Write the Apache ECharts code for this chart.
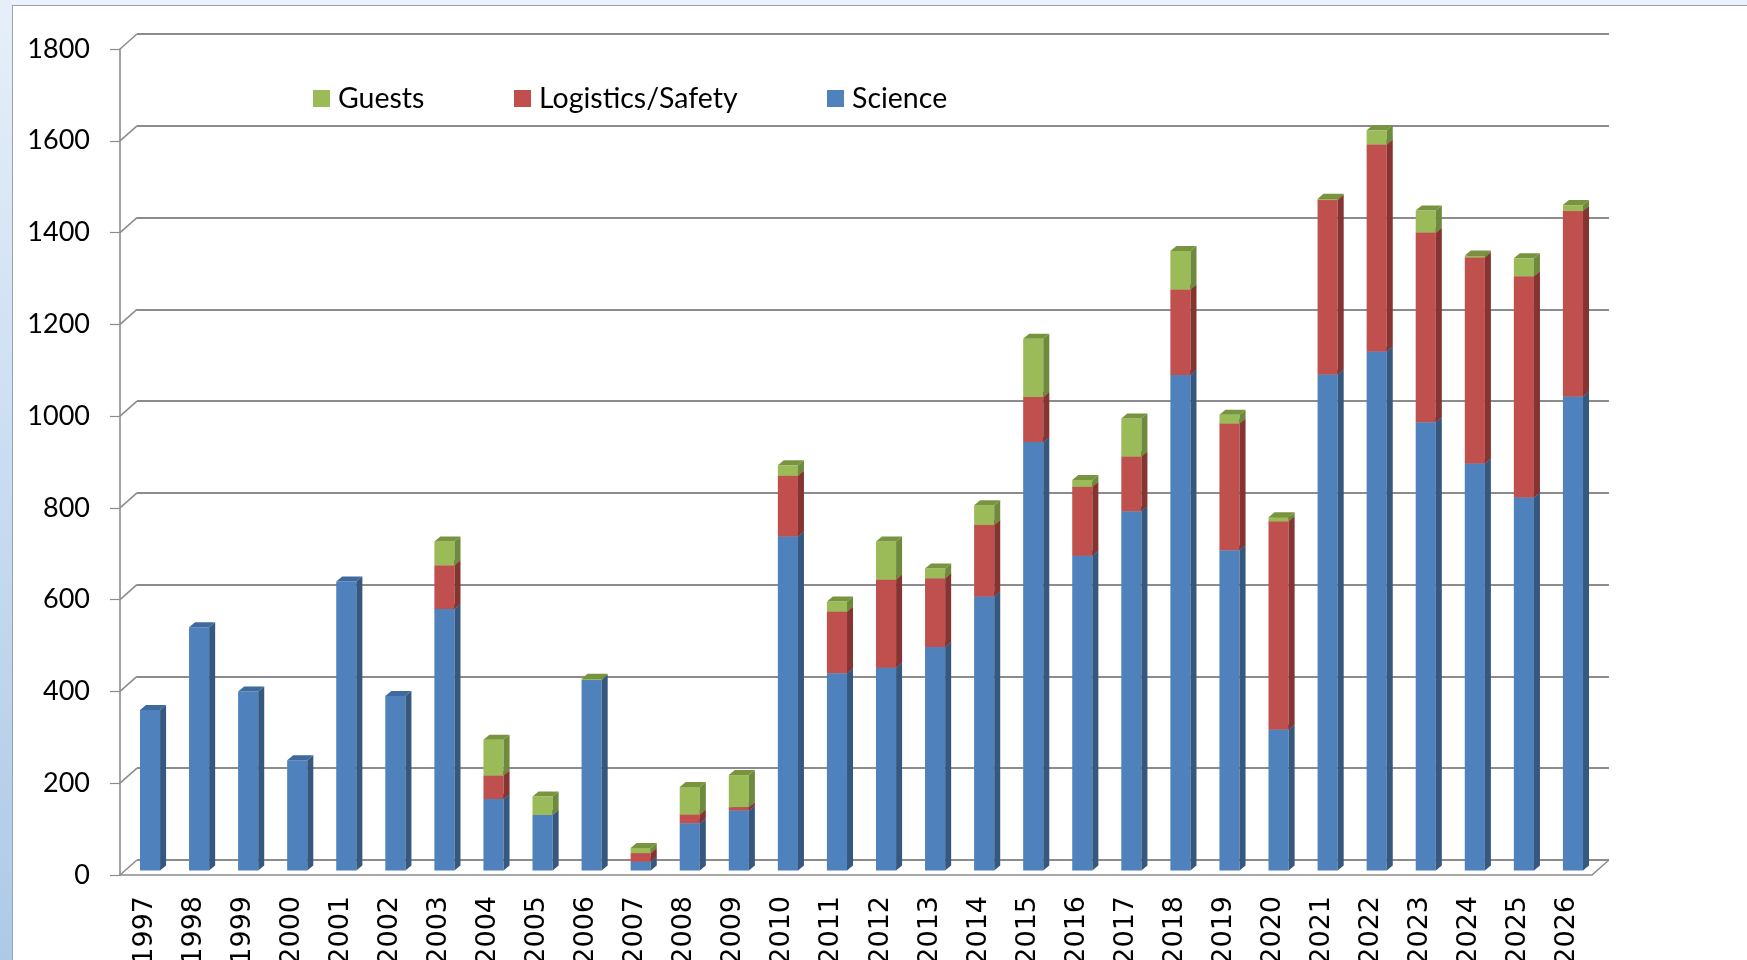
<!DOCTYPE html>
<html>
<head>
<meta charset="utf-8">
<title>Participants per year</title>
<script src="https://cdn.jsdelivr.net/npm/echarts@6/dist/echarts.min.js"></script>
<style>
  html, body { margin: 0; padding: 0; width: 1747px; height: 960px; overflow: hidden; background: #fff; }
  .left-strip { position: absolute; left: 0; top: 0; width: 12px; height: 960px;
    background: linear-gradient(to bottom, #e6eff9, #accae7); border-right: 1px solid #9aa3ad; }
  .top-strip { position: absolute; left: 12px; top: 0; width: 1735px; height: 5px;
    background: #eaf2fb; border-bottom: 1px solid #9aa3ad; }
  #chart { position: absolute; left: 0; top: 0; width: 1747px; height: 960px; }
</style>
</head>
<body>
<div class="left-strip"></div>
<div class="top-strip"></div>
<div id="chart"></div>
<script>
const years = ['1997', '1998', '1999', '2000', '2001', '2002', '2003', '2004', '2005', '2006',
  '2007', '2008', '2009', '2010', '2011', '2012', '2013', '2014', '2015', '2016',
  '2017', '2018', '2019', '2020', '2021', '2022', '2023', '2024', '2025', '2026']
const science = [350, 530, 390, 240, 630, 380, 570, 156, 121, 415,
  19, 103, 131, 728, 430, 442, 487, 597, 934, 686,
  783, 1080, 698, 307, 1081, 1131, 977, 887, 813, 1033]
const logistics = [0, 0, 0, 0, 0, 0, 95, 51, 0, 0,
  19, 19, 7, 132, 134, 192, 150, 156, 98, 150,
  119, 186, 276, 454, 380, 451, 413, 449, 482, 404]
const guests = [0, 0, 0, 0, 0, 0, 52, 78, 40, 3,
  11, 60, 70, 23, 22, 83, 21, 43, 127, 15,
  83, 84, 19, 9, 3, 31, 48, 4, 39, 13]
const yTicks = [0, 200, 400, 600, 800, 1000, 1200, 1400, 1600, 1800]

const chart = echarts.init(document.getElementById('chart'))

// depth of the fake 3d walls and boxes
const WALL_DX = 17, WALL_DY = -15
const BAR_DX = 5.5, BAR_DY = -4.5
const SIDE_DX = 6, SIDE_DY = -5

// [index, bottom, top] for each stacked piece
const stackRows = (vals, below) => vals.map((v, i) => [i, below[i], below[i] + v])
const zeros = years.map(() => 0)
const sciRows = stackRows(science, zeros)
const logRows = stackRows(logistics, science)
const gstRows = stackRows(guests, science.map((s, i) => s + logistics[i]))

const boxRender = (front, side, top) => (params, api) => {
  const i = api.value(0)
  const lo = api.value(1)
  const hi = api.value(2)
  if (hi - lo <= 0) return
  const pLo = api.coord([i, lo])
  const pHi = api.coord([i, hi])
  const bw = api.size([1, 0])[0] * 0.41
  const x0 = pLo[0] - bw / 2 + BAR_DX
  const x1 = x0 + bw
  const yb = pLo[1] + BAR_DY
  const yt = pHi[1] + BAR_DY
  return {
    type: 'group',
    children: [
      { type: 'rect', shape: { x: x0, y: yt, width: bw, height: yb - yt }, style: { fill: front } },
      { type: 'polygon', shape: { points: [[x1, yb], [x1, yt], [x1 + SIDE_DX, yt + SIDE_DY], [x1 + SIDE_DX, yb + SIDE_DY]] }, style: { fill: side } },
      { type: 'polygon', shape: { points: [[x0, yt], [x1, yt], [x1 + SIDE_DX, yt + SIDE_DY], [x0 + SIDE_DX, yt + SIDE_DY]] }, style: { fill: top } }
    ]
  }
}

const legendText = { fontFamily: 'Lato', fontSize: 28.5, color: '#000', padding: [0, 0, 0, 3] }
const legendBase = { top: 84, padding: 0, itemWidth: 17, itemHeight: 17, icon: 'rect', textStyle: legendText }

const option = {
  animation: false,
  legend: [
    { ...legendBase, left: 313, data: ['Guests'] },
    { ...legendBase, left: 514, data: ['Logistics/Safety'] },
    { ...legendBase, left: 827, data: ['Science'] }
  ],
  grid: [
    { left: 120, right: 155, top: 49, bottom: 85, outerBoundsMode: 'none' },
    { left: 120 + WALL_DX, right: 155 - WALL_DX, top: 49 + WALL_DY, bottom: 85 - WALL_DY, outerBoundsMode: 'none' }
  ],
  xAxis: [
    {
      type: 'category',
      gridIndex: 0,
      data: years,
      axisLine: { lineStyle: { color: '#8c8c8c', width: 1.6 } },
      axisTick: { length: 11, lineStyle: { color: '#8c8c8c', width: 1.2 } },
      // top padding nudges the upright labels a little to the right, like the bars
      axisLabel: { rotate: 90, margin: 21, padding: [7, 0, 0, 0], fontFamily: 'DejaVu Sans', fontSize: 27, color: '#000', interval: 0 }
    },
    {
      type: 'category',
      gridIndex: 1,
      data: years,
      show: false
    }
  ],
  yAxis: [
    {
      type: 'value',
      gridIndex: 0,
      min: 0,
      max: 1800,
      interval: 200,
      axisLine: { show: true, lineStyle: { color: '#8c8c8c', width: 1.6 } },
      axisTick: { show: true, length: 10, lineStyle: { color: '#8c8c8c', width: 1.2 } },
      axisLabel: { margin: 30, fontFamily: 'Lato', fontSize: 27, color: '#000', formatter: v => String(v) },
      splitLine: { show: false }
    },
    {
      type: 'value',
      gridIndex: 1,
      min: 0,
      max: 1800,
      interval: 200,
      axisLine: { show: false },
      axisTick: { show: false },
      axisLabel: { show: false },
      splitLine: { lineStyle: { color: '#8c8c8c', width: 1.8 } }
    }
  ],
  series: [
    {
      // diagonal links from the front axis to the back wall
      type: 'custom',
      silent: true,
      xAxisIndex: 0,
      yAxisIndex: 0,
      data: yTicks.map(v => [0, v]),
      renderItem: (params, api) => {
        const cs = params.coordSys
        const y = api.coord([0, api.value(1)])[1]
        const style = { stroke: '#8c8c8c', lineWidth: 1.6 }
        const kids = [{ type: 'line', shape: { x1: cs.x, y1: y, x2: cs.x + WALL_DX, y2: y + WALL_DY }, style }]
        if (api.value(1) === 0) {
          const xr = cs.x + cs.width
          kids.push({ type: 'line', shape: { x1: xr, y1: y, x2: xr + WALL_DX, y2: y + WALL_DY }, style })
        }
        return { type: 'group', children: kids }
      }
    },
    {
      name: 'Science',
      type: 'custom',
      xAxisIndex: 0,
      yAxisIndex: 0,
      itemStyle: { color: '#4F81BD' },
      encode: { x: 0, y: [1, 2] },
      data: sciRows,
      renderItem: boxRender('#4F81BD', '#36587f', '#3e6a9e')
    },
    {
      name: 'Logistics/Safety',
      type: 'custom',
      xAxisIndex: 0,
      yAxisIndex: 0,
      itemStyle: { color: '#C0504D' },
      encode: { x: 0, y: [1, 2] },
      data: logRows,
      renderItem: boxRender('#C0504D', '#853432', '#9c3f3c')
    },
    {
      name: 'Guests',
      type: 'custom',
      xAxisIndex: 0,
      yAxisIndex: 0,
      itemStyle: { color: '#9BBB59' },
      encode: { x: 0, y: [1, 2] },
      data: gstRows,
      renderItem: boxRender('#9BBB59', '#6e8a3c', '#78943e')
    }
  ]
}

chart.setOption(option)

window.addEventListener('resize', () => {
  chart.resize()
})
</script>
</body>
</html>
